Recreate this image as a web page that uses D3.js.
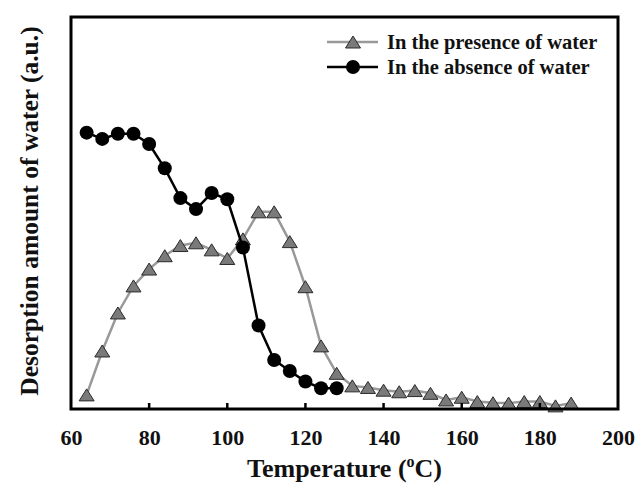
<!DOCTYPE html>
<html>
<head>
<meta charset="utf-8">
<script src="https://cdn.jsdelivr.net/npm/d3@7"></script>
<style>
  html, body { margin: 0; padding: 0; background: #fff; }
  svg { display: block; }
  text { font-family: "Liberation Serif", "Times New Roman", serif; font-weight: bold; fill: #111; }
</style>
</head>
<body>
<svg id="chart" width="638" height="491"></svg>
<script>
// Temperature (°C)
const absenceTemps = [64, 68, 72, 76, 80, 84, 88, 92, 96, 100, 104, 108, 112, 116, 120, 124, 128];
const absenceValues = [70.5, 68.9, 70.2, 70.2, 67.6, 61.4, 53.8, 51.0, 55.1, 53.5, 41.2, 21.3, 12.5, 9.7, 7.0, 5.3, 5.3];

const presenceTemps = [64, 68, 72, 76, 80, 84, 88, 92, 96, 100, 104, 108, 112, 116, 120, 124, 128,
  132, 136, 140, 144, 148, 152, 156, 160, 164, 168, 172, 176, 180, 184, 188];
const presenceValues = [3.6, 14.8, 24.5, 31.4, 35.7, 39.1, 41.7, 42.4, 40.6, 38.4, 43.4, 50.3, 50.3, 42.7, 31.2, 16.1, 9.1,
  5.9, 5.5, 4.8, 4.4, 4.7, 4.0, 2.3, 3.0, 1.9, 1.6, 1.5, 1.9, 1.9, 0.8, 1.5];

const xTicks = [60, 80, 100, 120, 140, 160, 180, 200];
const legendLabels = ["In the presence of water", "In the absence of water"];
const xTitle = "Temperature (";
const yTitle = "Desorption amount of water (a.u.)";

const svg = d3.select("#chart");
const L = 71, R = 618, T = 17, B = 409;

const x = d3.scaleLinear().domain([60, 200]).range([L, R]);
const y = d3.scaleLinear().domain([0, 100]).range([B, T]);

const presence = presenceTemps.map((t, i) => ({ t, v: presenceValues[i] }));
const absence = absenceTemps.map((t, i) => ({ t, v: absenceValues[i] }));

const line = d3.line().x(d => x(d.t)).y(d => y(d.v));

// triangle path centered on bbox centre
function tri(cx, cy, w, h) {
  return `M${cx},${cy - h / 2}L${cx + w / 2},${cy + h / 2}L${cx - w / 2},${cy + h / 2}Z`;
}

// presence series (grey)
svg.append("path").datum(presence)
  .attr("d", line).attr("fill", "none")
  .attr("stroke", "#999").attr("stroke-width", 2.5);
svg.append("g").selectAll("path").data(presence).join("path")
  .attr("d", d => tri(x(d.t), y(d.v), 15, 12))
  .attr("fill", "#7a7a7a").attr("stroke", "#2a2a2a").attr("stroke-width", 1);

// absence series (black)
svg.append("path").datum(absence)
  .attr("d", line).attr("fill", "none")
  .attr("stroke", "#000").attr("stroke-width", 2.5);
svg.append("g").selectAll("circle").data(absence).join("circle")
  .attr("cx", d => x(d.t)).attr("cy", d => y(d.v)).attr("r", 7)
  .attr("fill", "#000");

// frame
svg.append("rect").attr("x", L).attr("y", T).attr("width", R - L).attr("height", B - T)
  .attr("fill", "none").attr("stroke", "#000").attr("stroke-width", 3);

// x axis
const xAxis = d3.axisBottom(x).tickValues(xTicks).tickSize(0).tickPadding(0);
const gx = svg.append("g").attr("transform", `translate(0,${B})`).call(xAxis)
  .attr("font-family", '"Liberation Serif", "Times New Roman", serif')
  .attr("font-weight", "bold").attr("font-size", 22);
gx.select(".domain").remove();
gx.selectAll("text")
  .attr("y", 36).attr("dy", null)
  .attr("font-weight", "bold")
  .style("font-size", "22px")
  .style("font-family", '"Liberation Serif", "Times New Roman", serif')
  .style("font-weight", "bold").attr("fill", "#000");
// inner tick marks
svg.append("g").selectAll("line").data(xTicks.slice(1, -1)).join("line")
  .attr("x1", d => x(d)).attr("x2", d => x(d))
  .attr("y1", B).attr("y2", B - 6)
  .attr("stroke", "#000").attr("stroke-width", 2.5);

// x title
const xt = svg.append("text").attr("x", (L + R) / 2 + 0).attr("y", 477)
  .attr("text-anchor", "middle").style("font-size", "26px");
xt.append("tspan").text(xTitle);
xt.append("tspan").text("o").attr("dy", -10).style("font-size", "16px");
xt.append("tspan").text("C)").attr("dy", 10);

// y title
svg.append("text")
  .attr("transform", `translate(38,${(T + B) / 2 - 2}) rotate(-90)`)
  .attr("text-anchor", "middle").style("font-size", "25.5px")
  .text(yTitle);

// legend
const leg = svg.append("g");
const ly = [42, 67];
leg.append("line").attr("x1", 327).attr("x2", 378).attr("y1", ly[0]).attr("y2", ly[0])
  .attr("stroke", "#999").attr("stroke-width", 2.5);
leg.append("path").attr("d", tri(353, ly[0], 15, 12))
  .attr("fill", "#7a7a7a").attr("stroke", "#2a2a2a").attr("stroke-width", 1);
leg.append("line").attr("x1", 327).attr("x2", 378).attr("y1", ly[1]).attr("y2", ly[1])
  .attr("stroke", "#000").attr("stroke-width", 2.5);
leg.append("circle").attr("cx", 353).attr("cy", ly[1]).attr("r", 7).attr("fill", "#000");
leg.selectAll("text").data(legendLabels).join("text")
  .attr("x", 387).attr("y", (d, i) => ly[i] + 7)
  .style("font-size", "20.5px")
  .text(d => d);
</script>
</body>
</html>
